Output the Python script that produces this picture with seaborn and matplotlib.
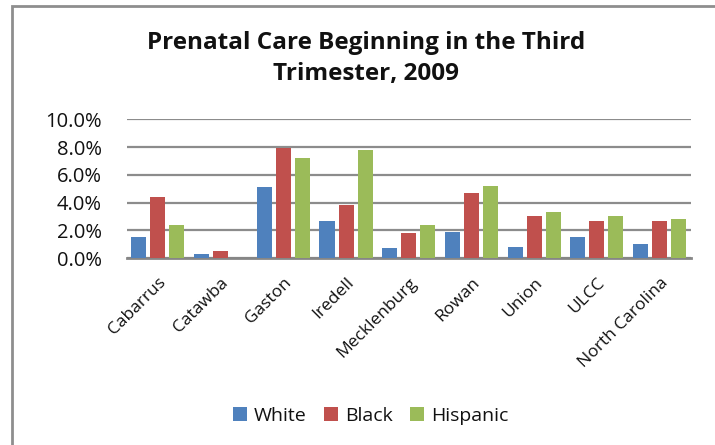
import matplotlib
matplotlib.use("Agg")
import matplotlib.pyplot as plt
import seaborn as sns
import pandas as pd
from matplotlib.ticker import PercentFormatter
from matplotlib.patches import Rectangle

categories = ["Cabarrus", "Catawba", "Gaston", "Iredell", "Mecklenburg",
              "Rowan", "Union", "ULCC", "North Carolina"]
series = ["White", "Black", "Hispanic"]
white = [1.5, 0.3, 5.1, 2.7, 0.7, 1.9, 0.8, 1.5, 1.0]
black = [4.4, 0.5, 7.9, 3.8, 1.8, 4.7, 3.0, 2.7, 2.7]
hispanic = [2.4, 0.0, 7.2, 7.8, 2.4, 5.2, 3.3, 3.0, 2.8]
yticks = [0, 2, 4, 6, 8, 10]
title = "Prenatal Care Beginning in the Third\nTrimester, 2009"

rows = []
for s, vals in zip(series, [white, black, hispanic]):
    for c, v in zip(categories, vals):
        rows.append({"County": c, "Race": s, "Pct": v})
df = pd.DataFrame(rows)

sns.set_theme(style="white")
plt.rcParams["font.family"] = ["Open Sans", "DejaVu Sans"]

W, H = 715, 445
fig = plt.figure(figsize=(W / 100, H / 100), dpi=100)
ax = fig.add_axes([126.5 / W, 1 - 258 / H, (691 - 126.5) / W, (258 - 119.3) / H])

palette = {"White": "#4F81BD", "Black": "#C0504D", "Hispanic": "#9BBB59"}
sns.barplot(data=df, x="County", y="Pct", hue="Race", hue_order=series,
            order=categories, palette=palette, width=0.91, gap=0.21,
            saturation=1, ax=ax, legend=True, zorder=3, linewidth=0)

ax.set_ylim(0, 10)
ax.set_xlim(-0.5, len(categories) - 0.5)
ax.set_yticks(yticks)
ax.yaxis.set_major_formatter(PercentFormatter(decimals=1))
ax.grid(axis="y", color="#8C8C8C", linewidth=1.6, zorder=0)
ax.set_axisbelow(True)
for s in ["top", "right", "left"]:
    ax.spines[s].set_visible(False)
ax.spines["bottom"].set_color("#868686")
ax.spines["bottom"].set_linewidth(2)
ax.set_xlabel("")
ax.set_ylabel("")
ax.tick_params(axis="y", length=0, pad=18, labelsize=14.5, labelcolor="#111111")
ax.tick_params(axis="x", length=0, pad=12, labelsize=12.5, labelcolor="#111111")
for lbl in ax.get_xticklabels():
    lbl.set_rotation(45)
    lbl.set_ha("right")
    lbl.set_rotation_mode("anchor")

leg = ax.legend(loc="center", bbox_to_anchor=(371 / W, 1 - 416 / H),
                bbox_transform=fig.transFigure, ncol=3, frameon=False,
                fontsize=14, handlelength=0.7, handleheight=0.7,
                handletextpad=0.37, columnspacing=0.9)
for t in leg.get_texts():
    t.set_color("#111111")

fig.text(366 / W, 1 - 58.5 / H, title, ha="center", va="center",
         fontsize=17.5, fontweight="bold", color="#111111", linespacing=1.35)

fig.patches.append(Rectangle((12 / W, -0.1), 1.2, (1 - 6 / H) + 0.1,
                             transform=fig.transFigure, fill=False,
                             edgecolor="#8E8E8E", linewidth=2.0, zorder=10))

fig.savefig("out.png", dpi=100)
